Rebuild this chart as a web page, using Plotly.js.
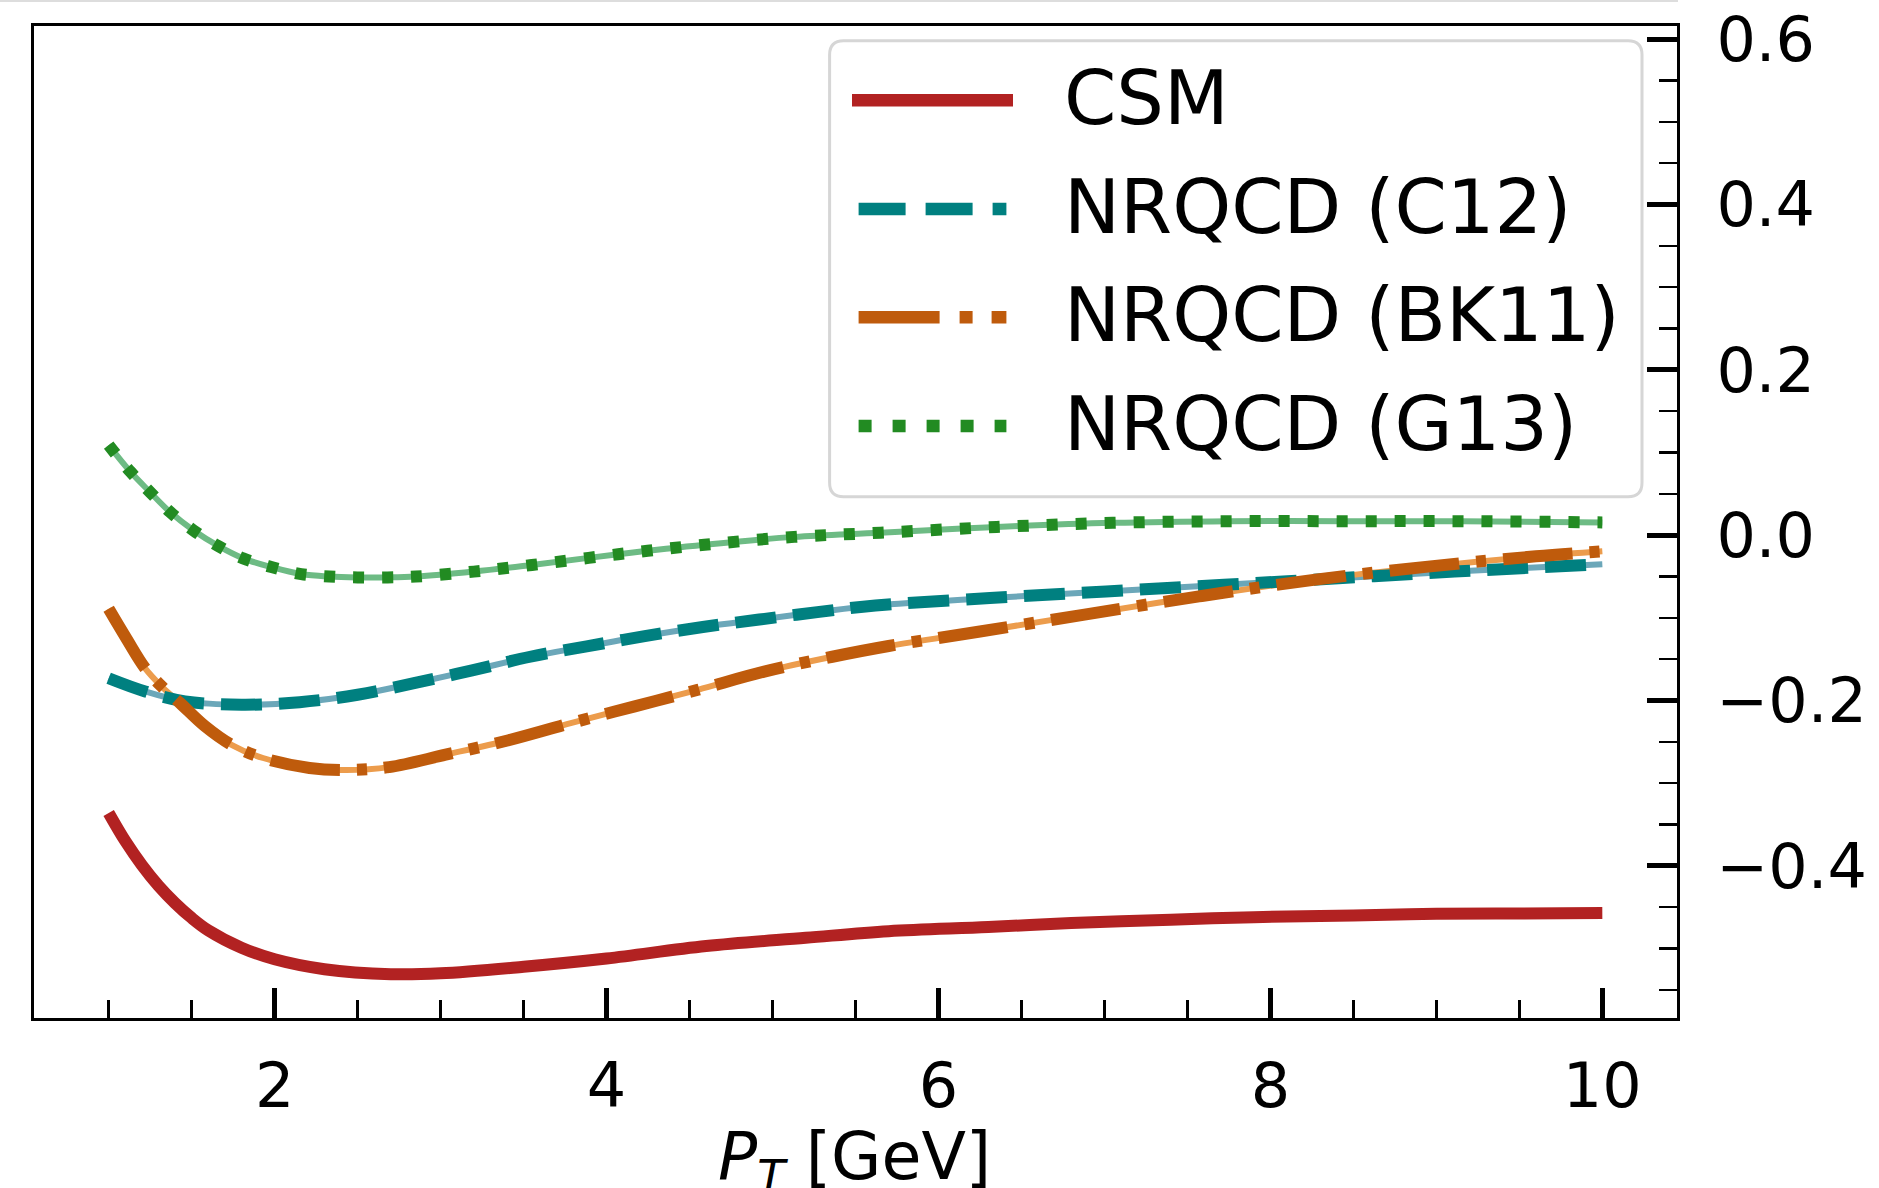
<!DOCTYPE html>
<html>
<head>
<meta charset="utf-8">
<script src="https://cdn.plot.ly/plotly-3.0.1.min.js"></script>
<style>
html, body { margin: 0; padding: 0; background: #ffffff; }
#chart { width: 1879px; height: 1188px; }
</style>
</head>
<body>
<div id="chart"></div>
<script>
// ---- data ----
const csmX = [1.0, 1.1, 1.2, 1.3, 1.4, 1.5, 1.6, 1.8, 2.0, 2.3, 2.7, 3.0, 3.5, 4.0, 4.6, 5.2, 5.7, 6.3, 6.8, 7.4, 7.9, 8.5, 9.0, 9.5, 10.0];
const csmY = [-0.336, -0.370, -0.399, -0.424, -0.445, -0.463, -0.478, -0.499, -0.513, -0.525, -0.531, -0.530, -0.522, -0.512, -0.497, -0.487, -0.479, -0.474, -0.469, -0.465, -0.462, -0.460, -0.458, -0.4575, -0.457];

const c12X = [1.0, 1.22, 1.46, 1.8, 2.15, 2.5, 2.84, 3.19, 3.54, 3.88, 4.23, 4.58, 4.92, 5.27, 5.62, 6.31, 7.01, 7.72, 8.41, 9.11, 10.0];
const c12Y = [-0.173, -0.189, -0.201, -0.205, -0.202, -0.193, -0.179, -0.1635, -0.147, -0.1345, -0.122, -0.111, -0.102, -0.093, -0.085, -0.076, -0.068, -0.060, -0.052, -0.044, -0.035];

const bk11X = [1.0, 1.11, 1.22, 1.32, 1.43, 1.58, 1.74, 1.93, 2.21, 2.43, 2.69, 3.03, 3.41, 3.79, 4.17, 4.55, 4.95, 5.36, 5.7, 6.25, 6.88, 7.57, 8.26, 8.95, 9.6, 10.0];
const bk11Y = [-0.089, -0.126, -0.161, -0.183, -0.203, -0.231, -0.2535, -0.2695, -0.2815, -0.284, -0.2805, -0.2655, -0.248, -0.227, -0.207, -0.187, -0.165, -0.147, -0.134, -0.1165, -0.096, -0.074, -0.054, -0.038, -0.0255, -0.0195];

const g13X = [1.0, 1.13, 1.25, 1.37, 1.51, 1.66, 1.81, 1.98, 2.16, 2.33, 2.5, 2.68, 2.85, 3.2, 3.55, 4.07, 4.59, 5.13, 5.65, 6.35, 7.05, 7.75, 8.45, 9.15, 10.0];
const g13Y = [0.109, 0.077, 0.052, 0.028, 0.006, -0.013, -0.028, -0.0385, -0.047, -0.050, -0.051, -0.051, -0.050, -0.044, -0.036, -0.023, -0.0115, -0.002, 0.003, 0.010, 0.015, 0.017, 0.017, 0.017, 0.0155];

const seriesNames = ["CSM", "NRQCD (C12)", "NRQCD (BK11)", "NRQCD (G13)"];
const xTickVals = [2, 4, 6, 8, 10];
const yTickVals = [-0.4, -0.2, 0.0, 0.2, 0.4, 0.6];
const xTitle = "<i>P</i><sub><i>T</i></sub> [GeV]";

// ---- styles ----
const FONT = "DejaVu Sans";
const lineColors = ["#b22222", "#008080", "#bf5b0c", "#228b22"];
const bandColors = ["#e07a7a", "#6ba7b9", "#ec9c4c", "#6dbb84"];
const plotDash = ["solid", "41px,17px", "70px,17px,10px,17px", "11px,18px"];
const legendDash = ["solid", "47px,20px", "81px,20px,13px,19px", "13px,21px"];

const W = 1879, H = 1188;
const M = { l: 34, r: 202, t: 26, b: 170 };
const PW = W - M.l - M.r, PH = H - M.t - M.b;
const px = x => (x - M.l) / PW;
const py = y => (M.t + PH - y) / PH;

const xs = [csmX, c12X, bk11X, g13X];
const ys = [csmY, c12Y, bk11Y, g13Y];

const traces = [];
// light bands underneath (not visible for CSM)
for (let i = 1; i < 4; i++) {
  traces.push({
    x: xs[i], y: ys[i], type: "scatter", mode: "lines",
    line: { color: bandColors[i], width: 6, shape: "spline", smoothing: 1 },
    showlegend: false, hoverinfo: "skip"
  });
}
for (let i = 0; i < 4; i++) {
  traces.push({
    x: xs[i], y: ys[i], type: "scatter", mode: "lines", name: seriesNames[i],
    line: { color: lineColors[i], width: 12, dash: plotDash[i], shape: "spline", smoothing: 1 },
    showlegend: false
  });
}

// ---- hand-drawn legend (matplotlib style) ----
const shapes = [];
const annotations = [];
const boxL = 829.6, boxR = 1642, boxT = 40.7, boxB = 496.7, rad = 14;
const xL = px(boxL), xR = px(boxR), yT = py(boxT), yB = py(boxB);
const rx = rad / PW, ry = rad / PH;
shapes.push({
  type: "path", xref: "paper", yref: "paper",
  path: `M${xL + rx},${yT} L${xR - rx},${yT} Q${xR},${yT} ${xR},${yT - ry} L${xR},${yB + ry} Q${xR},${yB} ${xR - rx},${yB} L${xL + rx},${yB} Q${xL},${yB} ${xL},${yB + ry} L${xL},${yT - ry} Q${xL},${yT} ${xL + rx},${yT} Z`,
  fillcolor: "rgba(255,255,255,0.85)", line: { color: "#d6d6d6", width: 3 }, layer: "above"
});
const entryY = [100.3, 209, 317.3, 426];
for (let i = 0; i < 4; i++) {
  const x0 = i === 0 ? 852 : 858.6, x1 = i === 0 ? 1013 : 1006.4;
  shapes.push({
    type: "line", xref: "paper", yref: "paper",
    x0: px(x0), x1: px(x1), y0: py(entryY[i]), y1: py(entryY[i]),
    line: { color: lineColors[i], width: 12.5, dash: legendDash[i] }, layer: "above"
  });
  annotations.push({
    xref: "paper", yref: "paper", x: px(1062), y: py(entryY[i] - 2),
    xanchor: "left", yanchor: "middle", showarrow: false,
    text: seriesNames[i], font: { family: FONT, size: 75, color: "#000" }
  });
}
// x-axis title (placed as in the cropped reference)
annotations.push({
  xref: "paper", yref: "paper", x: px(854), y: py(1161),
  xanchor: "center", yanchor: "middle", showarrow: false,
  text: xTitle, font: { family: FONT, size: 65, color: "#000" }
});
// faint grey edge at the very top of the crop
shapes.push({
  type: "line", xref: "paper", yref: "paper",
  x0: px(0), x1: px(1678), y0: py(1), y1: py(1),
  line: { color: "#dddddd", width: 2 }, layer: "above"
});

const layout = {
  width: W, height: H,
  margin: M,
  paper_bgcolor: "#ffffff", plot_bgcolor: "#ffffff",
  showlegend: false,
  font: { family: FONT, color: "#000" },
  xaxis: {
    range: [0.55, 10.45],
    tickmode: "array", tickvals: xTickVals,
    ticks: "inside", ticklen: 30, tickwidth: 5, tickcolor: "#000",
    minor: { tick0: 0, dtick: 0.5, ticks: "inside", ticklen: 18, tickwidth: 2.5, tickcolor: "#000", showgrid: false },
    showline: true, linecolor: "#000", linewidth: 3, mirror: true,
    showgrid: false, zeroline: false,
    tickfont: { family: FONT, size: 62, color: "#000" },
    ticklabelstandoff: 12
  },
  yaxis: {
    side: "right",
    range: [-0.584, 0.616],
    tickmode: "array", tickvals: yTickVals, tickformat: ".1f",
    ticks: "inside", ticklen: 30, tickwidth: 5, tickcolor: "#000",
    minor: { tick0: 0, dtick: 0.05, ticks: "inside", ticklen: 18, tickwidth: 2.5, tickcolor: "#000", showgrid: false },
    showline: true, linecolor: "#000", linewidth: 3, mirror: true,
    showgrid: false, zeroline: false,
    tickfont: { family: FONT, size: 62, color: "#000" },
    ticklabelstandoff: 24
  },
  shapes: shapes,
  annotations: annotations
};

Plotly.newPlot("chart", traces, layout, { staticPlot: true, displayModeBar: false });
</script>
</body>
</html>
